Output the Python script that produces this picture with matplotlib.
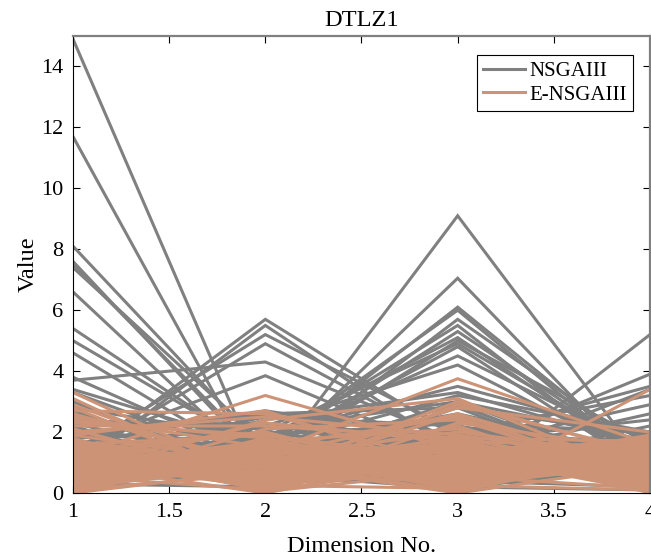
import numpy as np
import matplotlib
matplotlib.use('Agg')
import matplotlib.pyplot as plt

plt.rcParams['font.family'] = ['Liberation Serif', 'DejaVu Serif']

dims = [1, 2, 3, 4]

# NSGAIII solutions, one list per dimension
nsga_d1 = [14.9, 11.7, 8.1, 7.6, 7.5, 7.4, 6.6, 5.4, 5.0, 4.6, 3.7, 3.8,
           1.0, 0.8, 1.3, 1.1, 1.5, 1.6, 1.9, 1.2, 2.2, 1.8,
           1.2, 0.9, 1.4, 0.6, 1.7, 1.0, 0.5, 1.3, 0.7, 1.5, 2.0, 0.8, 1.1, 1.6, 0.9, 1.4, 2.4, 0.6, 0.4,
           1.2, 0.8, 1.3, 1.1, 0.7, 1.9, 0.5, 2.3, 1.5, 0.9,
           3.4, 3.3, 3.0, 2.8, 2.7, 2.5, 2.2, 2.0, 0.3, 0.2, 0.7]
nsga_d2 = [0.3, 0.2, 1.4, 0.9, 1.1, 1.6, 0.7, 1.2, 1.3, 0.8, 4.3, 1.0,
           5.7, 5.5, 5.2, 4.9, 3.85, 2.7, 2.6, 2.5, 2.3, 2.0,
           0.7, 1.0, 1.2, 1.5, 0.9, 1.6, 1.3, 1.8, 1.1, 2.0, 1.4, 1.7, 2.2, 1.9, 2.4, 1.5, 2.1, 2.6, 0.6,
           1.0, 1.4, 0.9, 1.7, 1.3, 1.1, 2.0, 0.8, 1.6, 1.9,
           1.5, 1.0, 0.5, 1.8, 0.4, 1.2, 0.3, 0.8, 0.2, 1.1, 0.75]
nsga_d3 = [1.8, 2.2, 2.0, 1.6, 2.5, 1.2, 2.8, 1.9, 2.4, 2.1, 1.7, 3.0,
           1.8, 1.3, 2.0, 1.5, 1.2, 1.7, 1.4, 2.2, 1.0, 1.9,
           9.1, 7.05, 6.1, 6.0, 5.7, 5.5, 5.3, 5.1, 5.0, 4.9, 4.8, 4.5, 4.2, 3.5, 3.3, 3.2, 3.0, 2.8, 0.15,
           0.3, 1.3, 1.8, 1.0, 2.0, 1.5, 1.2, 1.7, 0.9, 2.3,
           2.6, 1.4, 2.0, 0.8, 1.6, 2.9, 0.7, 0.4, 1.1, 0.5, 0.2]
nsga_d4 = [1.0, 1.2, 0.6, 1.4, 0.8, 1.7, 0.4, 1.1, 0.9, 1.5, 1.3, 0.7,
           1.2, 0.9, 1.5, 1.0, 1.6, 1.4, 1.1, 0.8, 1.3, 1.7,
           0.7, 0.5, 1.0, 0.8, 1.3, 0.6, 1.1, 0.9, 1.6, 1.2, 0.7, 1.4, 1.0, 1.8, 1.5, 2.0, 1.7, 1.9, 0.9,
           5.2, 3.9, 3.5, 3.4, 3.2, 2.9, 2.6, 2.4, 2.2, 2.0,
           1.2, 0.3, 1.4, 0.9, 1.8, 0.5, 1.1, 0.2, 0.25, 1.6, 0.1]

# E-NSGAIII solutions
ens_d1 = [3.3, 1.2, 0.9, 0.6, 2.9, 2.7, 0.5, 1.4, 2.5, 2.2,
          1.7, 0.2, 1.1, 0.6, 1.5, 0.9, 0.3, 1.3, 0.05, 1.6,
          0.8, 1.0, 0.4, 1.2, 0.7, 1.45, 0.15, 1.8, 0.55, 0.95,
          1.25, 0.35, 1.65, 0.75, 0.1, 1.05, 1.55, 0.45, 0.85, 1.35,
          0.25, 1.15, 0.65, 1.75, 0.5, 0.0, 1.4, 0.3, 0.9, 1.6,
          1.2, 0.7, 0.2, 1.0, 1.5, 0.4, 0.8, 1.3, 0.6, 1.1,
          1.9, 2.1, 0.15, 1.7, 0.95, 0.55, 1.45, 0.05, 1.25, 0.35,
          2.8, 2.6, 2.4, 2.0, 3.1, 2.3, 1.9, 2.1, 0.3, 0.8, 1.1, 1.6, 2.5, 0.2, 1.4]
ens_d2 = [0.4, 3.2, 1.3, 1.0, 0.6, 2.6, 2.4, 0.8, 1.5, 2.2,
          0.9, 1.5, 0.3, 1.2, 0.6, 1.7, 1.0, 0.1, 1.4, 0.5,
          1.6, 0.2, 1.1, 0.8, 1.3, 0.4, 0.95, 0.05, 1.55, 0.7,
          1.25, 1.8, 0.35, 1.05, 0.65, 1.45, 0.15, 1.75, 0.85, 0.45,
          1.35, 0.55, 1.65, 0.25, 1.15, 0.75, 0.6, 1.5, 0.0, 1.9,
          0.9, 1.3, 1.6, 0.3, 1.1, 0.7, 1.4, 0.2, 1.7, 0.5,
          1.0, 0.4, 1.2, 0.8, 1.55, 0.1, 0.65, 1.35, 2.0, 0.95,
          0.3, 0.9, 1.8, 2.5, 0.2, 1.9, 2.7, 0.4, 2.1, 2.3, 1.2, 0.6, 1.0, 1.7, 2.0]
ens_d3 = [1.2, 1.4, 3.75, 0.05, 2.6, 0.9, 3.1, 2.8, 2.5, 1.8,
          0.5, 1.1, 1.6, 0.2, 1.3, 0.8, 1.5, 0.9, 0.4, 1.7,
          0.3, 1.0, 1.4, 0.6, 0.1, 1.2, 1.8, 0.7, 0.95, 1.45,
          0.25, 0.55, 1.15, 1.65, 0.35, 0.85, 1.25, 0.05, 1.55, 1.05,
          0.65, 1.75, 0.45, 0.15, 1.35, 0.75, 1.9, 0.4, 1.2, 0.8,
          0.0, 1.6, 0.6, 1.0, 0.3, 1.4, 0.9, 1.7, 0.2, 1.3,
          0.5, 1.1, 2.0, 0.7, 0.25, 1.5, 0.85, 1.05, 0.45, 1.6,
          1.5, 2.2, 0.4, 1.9, 2.3, 1.1, 0.6, 2.9, 2.4, 1.7, 2.6, 3.0, 0.8, 2.1, 0.3]
ens_d4 = [1.5, 1.0, 1.6, 3.4, 0.8, 1.2, 0.5, 2.0, 0.3, 1.7,
          1.2, 0.4, 0.9, 1.6, 0.1, 1.3, 0.6, 1.5, 1.0, 0.3,
          1.1, 1.7, 0.5, 0.8, 1.4, 0.2, 0.7, 1.2, 0.35, 1.6,
          0.95, 0.15, 1.45, 0.55, 1.25, 0.75, 0.05, 1.35, 1.0, 0.65,
          1.55, 0.25, 0.85, 1.15, 0.45, 1.75, 0.3, 1.1, 1.8, 0.6,
          0.9, 0.0, 1.4, 0.7, 1.65, 0.2, 1.0, 0.5, 1.3, 0.8,
          1.5, 0.4, 1.2, 1.7, 0.1, 0.6, 1.9, 0.95, 1.35, 0.25,
          0.9, 0.2, 1.6, 1.1, 1.4, 1.8, 0.7, 1.3, 0.5, 1.5, 0.4, 1.2, 1.7, 0.6, 1.0]

gray = '#808080'
orange = '#CC9376'

fig = plt.figure(figsize=(6.51, 5.60), dpi=100)
ax = fig.add_axes([73/651, 1 - 493/560, 577/651, 457/560])

nsga = np.array([nsga_d1, nsga_d2, nsga_d3, nsga_d4])
ens = np.array([ens_d1, ens_d2, ens_d3, ens_d4])

l1 = ax.plot(dims, nsga, color=gray, lw=2.2, solid_joinstyle='miter')
l2 = ax.plot(dims, ens, color=orange, lw=2.2, solid_joinstyle='miter')

ax.set_xlim(1, 4)
ax.set_ylim(0, 15)
ax.set_xticks([1, 1.5, 2, 2.5, 3, 3.5, 4])
ax.set_xticklabels(['1', '1.5', '2', '2.5', '3', '3.5', '4'])
ax.set_yticks(range(0, 15, 2))
ax.tick_params(direction='in', top=True, right=True, length=5, width=0.8,
               labelsize=16, colors='black', pad=7)
for s in ['left', 'bottom']:
    ax.spines[s].set_color('black')
    ax.spines[s].set_linewidth(0.8)
for s in ['top', 'right']:
    ax.spines[s].set_color(gray)
    ax.spines[s].set_linewidth(1.6)

ax.set_title('DTLZ1', fontsize=17.6, pad=7)
ax.set_xlabel('Dimension No.', fontsize=17.6, labelpad=10)
ax.set_ylabel('Value', fontsize=17.6, labelpad=2)

leg = ax.legend([l1[0], l2[0]], ['NSGAIII', 'E-NSGAIII'], loc='upper right',
                bbox_to_anchor=(0.97, 0.958), fontsize=15, fancybox=False,
                framealpha=1, edgecolor='black', handlelength=2.0,
                handletextpad=0.2, borderpad=0.3, labelspacing=0.2,
                borderaxespad=0)
leg.get_frame().set_linewidth(0.8)

fig.savefig('out.png', dpi=100)
